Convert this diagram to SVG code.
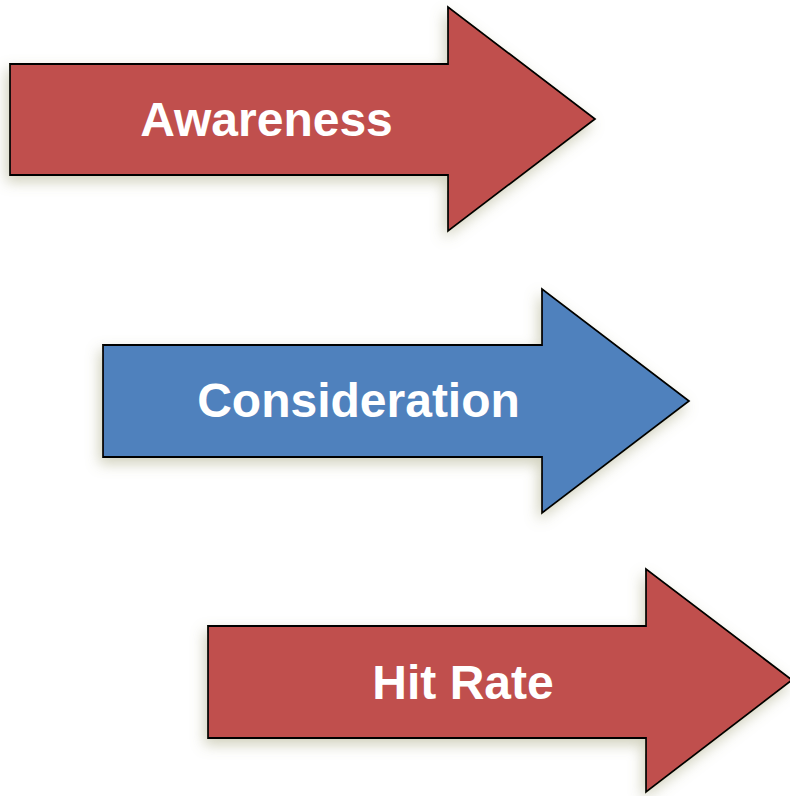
<svg xmlns="http://www.w3.org/2000/svg" width="790" height="796" viewBox="0 0 790 796">
  <style>
    .arrow { stroke: #000; stroke-width: 1.8; stroke-linejoin: miter; filter: url(#soft); }
    .red { fill: #c0504d; }
    .blue { fill: #4f81bd; }
    .label { font-family: "Liberation Sans", Arial, sans-serif; font-weight: bold; font-size: 48px; fill: #fff; text-anchor: middle; }
  </style>
  <defs>
    <filter id="soft" x="-10%" y="-10%" width="120%" height="130%">
      <feDropShadow dx="-3" dy="6" stdDeviation="7" flood-color="#9a9a70" flood-opacity="0.45"/>
    </filter>
  </defs>
  <rect width="790" height="796" fill="#fff"/>
  <g id="awareness">
    <path class="arrow red" d="M10,64 H448 V7 L595,119 L448,231 V175 H10 Z"/>
    <text class="label" x="266.5" y="136">Awareness</text>
  </g>
  <g id="consideration">
    <path class="arrow blue" d="M103,345 H542 V289 L689,401 L542,513 V457 H103 Z"/>
    <text class="label" x="358.5" y="417">Consideration</text>
  </g>
  <g id="hit-rate">
    <path class="arrow red" d="M208,626 H646 V569 L792,680 L646,792 V738 H208 Z"/>
    <text class="label" x="463" y="699">Hit Rate</text>
  </g>
  <g id="connectors"/>
</svg>
